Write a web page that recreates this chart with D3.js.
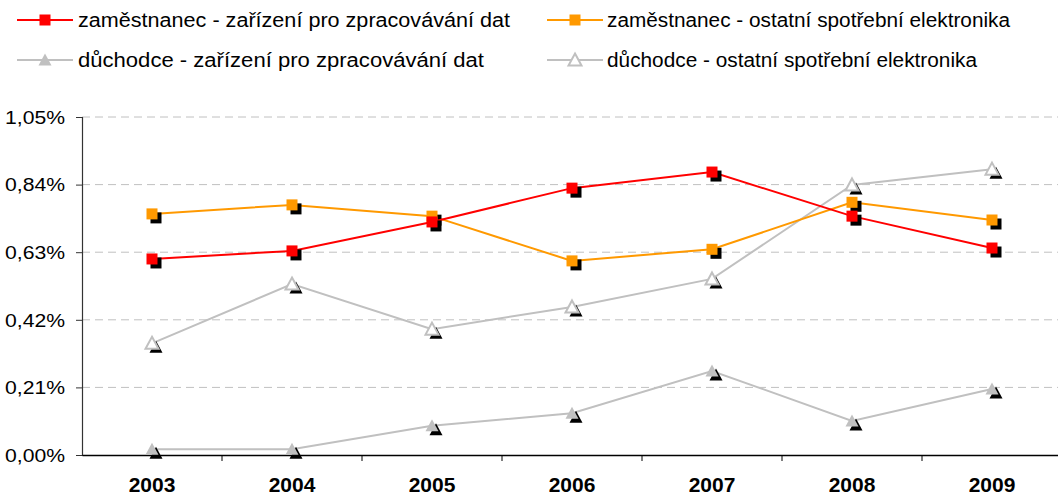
<!DOCTYPE html>
<html>
<head>
<meta charset="utf-8">
<script src="https://d3js.org/d3.v7.min.js"></script>
<style>
  body { margin: 0; background: #fff; }
  text { font-family: "Liberation Sans", Arial, sans-serif; fill: #000; }
  .grid line { stroke: #c0c0c0; stroke-dasharray: 8,5; }
  .series { fill: none; stroke-width: 2px; }
</style>
</head>
<body>
<svg width="1058" height="495"></svg>
<script>
var years = ["2003", "2004", "2005", "2006", "2007", "2008", "2009"];
var yTicks = [0, 0.21, 0.42, 0.63, 0.84, 1.05];

var zamZpracovani = [0.609, 0.634, 0.724, 0.829, 0.879, 0.742, 0.643];
var zamOstatni = [0.749, 0.777, 0.742, 0.603, 0.639, 0.785, 0.730];
var duchZpracovani = [0.018, 0.018, 0.091, 0.130, 0.261, 0.106, 0.205];
var duchOstatni = [0.347, 0.531, 0.391, 0.460, 0.547, 0.839, 0.888];

var seriesNames = [
  "zaměstnanec - zařízení pro zpracovávání dat",
  "zaměstnanec - ostatní spotřební elektronika",
  "důchodce - zařízení pro zpracovávání dat",
  "důchodce - ostatní spotřební elektronika"
];

var series = [
  {name: seriesNames[0], values: zamZpracovani, color: "#ff0000", marker: "square", fill: "#ff0000"},
  {name: seriesNames[1], values: zamOstatni, color: "#ff9900", marker: "square", fill: "#ff9900"},
  {name: seriesNames[2], values: duchZpracovani, color: "#c0c0c0", marker: "triangle", fill: "#c0c0c0"},
  {name: seriesNames[3], values: duchOstatni, color: "#c0c0c0", marker: "triangle", fill: "#ffffff"}
];

var svg = d3.select("svg");
var plotL = 82, plotR = 1062, plotT = 117, plotB = 455;

var x = d3.scaleBand().domain(years).range([plotL, plotR]);
var y = d3.scaleLinear().domain([0, 1.05]).range([plotB, plotT]);

// grid
svg.append("g").attr("class", "grid")
  .selectAll("line").data(yTicks.slice(1)).enter().append("line")
  .attr("x1", plotL).attr("x2", plotR)
  .attr("y1", function(d) { return y(d); })
  .attr("y2", function(d) { return y(d); });

// y axis
var fmt = function(d) { return d.toFixed(2).replace(".", ",") + "%"; };
var yAxis = svg.append("g").attr("transform", "translate(" + plotL + ",0)")
  .call(d3.axisLeft(y).tickValues(yTicks).tickSize(6).tickPadding(0).tickFormat(fmt));
yAxis.select(".domain").attr("stroke", "#333").attr("stroke-width", 1.2);
yAxis.selectAll(".tick line").attr("stroke", "#333");
yAxis.selectAll(".tick text").attr("font-size", 17.5).attr("fill", "#000")
  .attr("font-family", "Liberation Sans, Arial, sans-serif")
  .attr("text-anchor", "end")
  .attr("x", -17).attr("dy", "0.36em")
  .attr("textLength", 60).attr("lengthAdjust", "spacingAndGlyphs");

// x axis
var xAxis = svg.append("g").attr("transform", "translate(0," + plotB + ")")
  .call(d3.axisBottom(x).tickSize(0).tickPadding(0));
xAxis.select(".domain").attr("stroke", "#000").attr("stroke-width", 1.5);
xAxis.selectAll(".tick text").attr("font-size", 21).attr("font-weight", "bold")
  .attr("font-family", "Liberation Sans, Arial, sans-serif").attr("fill", "#000")
  .attr("dy", 0).attr("y", 37);
svg.append("g").selectAll("line").data(years.slice(1)).enter().append("line")
  .attr("x1", function(d) { return x(d); }).attr("x2", function(d) { return x(d); })
  .attr("y1", plotB).attr("y2", plotB + 6)
  .attr("stroke", "#000");

var sq = 11, tri = 13, sh = 4;
function triPath(cx, cy) {
  var h = 11;
  return "M" + cx + "," + (cy - h / 2 - 1) + "L" + (cx + tri / 2) + "," + (cy + h / 2) +
    "L" + (cx - tri / 2) + "," + (cy + h / 2) + "Z";
}
function drawMarker(g, s, cx, cy, shadow) {
  if (s.marker === "square") {
    if (shadow) g.append("rect").attr("x", cx - sq / 2 + sh).attr("y", cy - sq / 2 + sh)
      .attr("width", sq).attr("height", sq).attr("fill", "#000");
    g.append("rect").attr("x", cx - sq / 2).attr("y", cy - sq / 2)
      .attr("width", sq).attr("height", sq).attr("fill", s.fill);
  } else {
    if (shadow) g.append("path").attr("d", triPath(cx + sh, cy + sh)).attr("fill", "#000");
    g.append("path").attr("d", triPath(cx, cy)).attr("fill", s.fill)
      .attr("stroke", s.fill === "#ffffff" ? s.color : "none").attr("stroke-width", 2);
  }
}

var line = d3.line()
  .x(function(d, i) { return x(years[i]) + x.bandwidth() / 2; })
  .y(function(d) { return y(d); });

// draw series in reverse so red on top
series.slice().reverse().forEach(function(s) {
  var g = svg.append("g");
  g.append("path").attr("class", "series").attr("stroke", s.color).attr("d", line(s.values));
  s.values.forEach(function(v, i) {
    drawMarker(g, s, x(years[i]) + x.bandwidth() / 2, y(v), true);
  });
});

// legend
var legendPos = [[17, 20, 78, 432], [547, 20, 607, 403], [17, 60, 78, 406], [547, 60, 607, 370]];
series.forEach(function(s, i) {
  var p = legendPos[i];
  var g = svg.append("g");
  g.append("line").attr("x1", p[0]).attr("x2", p[0] + 56).attr("y1", p[1]).attr("y2", p[1])
    .attr("stroke", s.color).attr("stroke-width", 2);
  drawMarker(g, s, p[0] + 28, p[1], false);
  g.append("text").attr("x", p[2]).attr("y", p[1] + 7).attr("font-size", 20)
    .attr("textLength", p[3]).attr("lengthAdjust", "spacingAndGlyphs")
    .text(s.name);
});
</script>
</body>
</html>
